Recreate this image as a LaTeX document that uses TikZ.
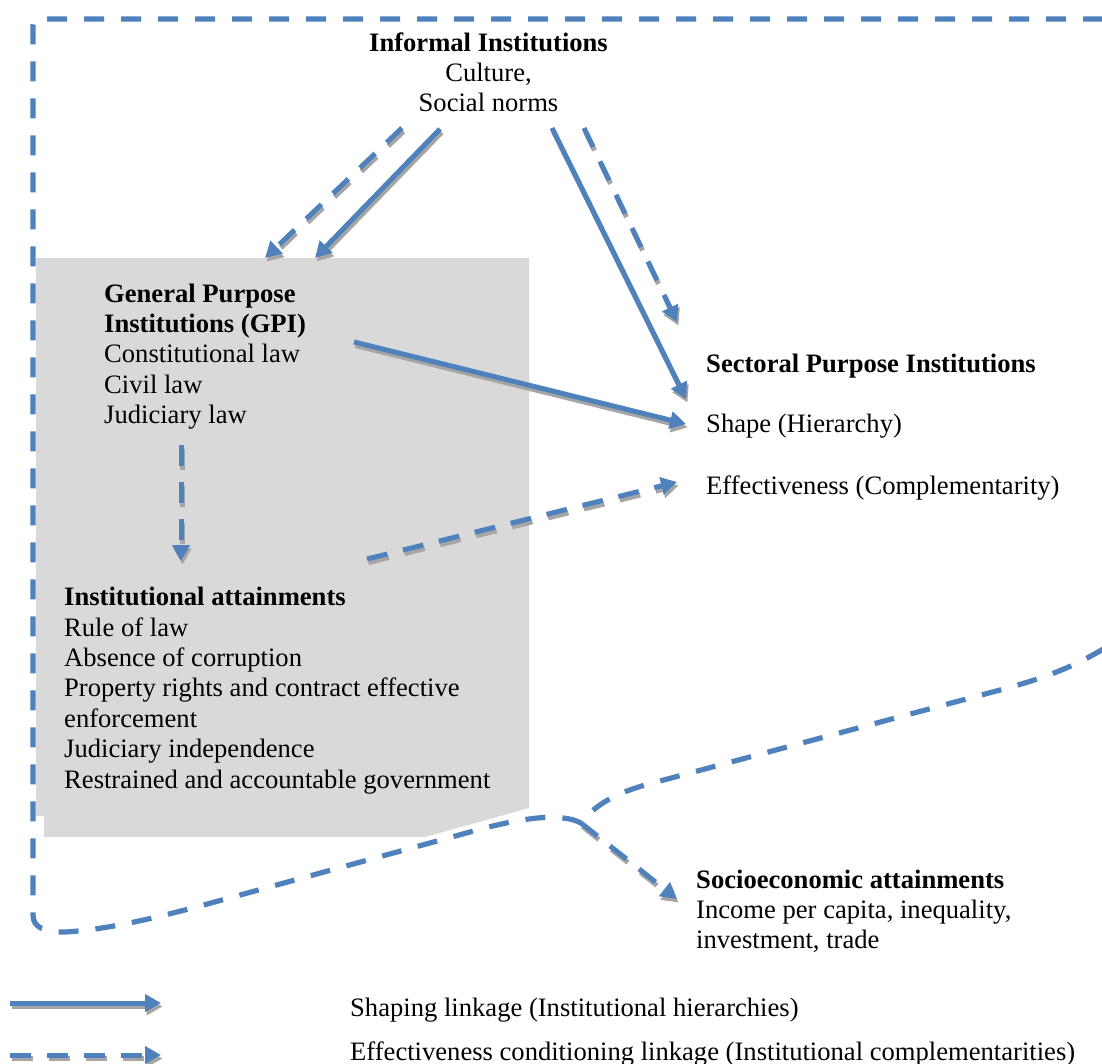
\documentclass[tikz,border=0pt]{standalone}
\usepackage{fontspec}
\setmainfont{Liberation Serif}
\usetikzlibrary{arrows.meta}
\definecolor{lblue}{RGB}{79,129,189}
\definecolor{boxgray}{RGB}{217,217,217}
\definecolor{shadowgray}{RGB}{165,165,165}
\begin{document}
\begin{tikzpicture}[x=1pt,y=-1pt,
  txt/.style={inner sep=0pt, font=\fontsize{26.6}{30.4}\selectfont, anchor=base west, align=left},
  tipstyle/.style={-{Triangle[length=16pt,width=17pt]}},
  link/.style={draw=lblue, line width=5pt, tipstyle,
    preaction={draw=shadowgray, line width=5pt, tipstyle, transform canvas={shift={(1.5pt,-3.5pt)}}}},
  cond/.style={draw=lblue, line width=5pt, tipstyle, dash pattern=on 21pt off 16pt,
    preaction={draw=shadowgray, line width=5pt, tipstyle, dash pattern=on 21pt off 16pt, transform canvas={shift={(1.5pt,-3.5pt)}}}},
  loopline/.style={draw=lblue, line width=5.2pt, dash pattern=on 20pt off 17pt}]
\useasboundingbox (0,0) rectangle (1102,1064);
\clip (0,0) rectangle (1102,1064);

% gray background block
\fill[boxgray] (36,258) -- (529,258) -- (529,808) -- (425,837) -- (44,837) -- (44,816) -- (36,816) -- cycle;

% texts (multi-line nodes: base is the last line's baseline)
\node[txt, anchor=base, align=center] (inf) at (488.5,112) {\textbf{Informal Institutions}\\Culture,\\Social norms};
\node[txt] (gpi) at (104,423.6) {\textbf{General Purpose}\\\textbf{Institutions (GPI)}\\Constitutional law\\Civil law\\Judiciary law};
\node[txt] (ia) at (64,788) {\textbf{Institutional attainments}\\Rule of law\\Absence of corruption\\Property rights and contract effective\\enforcement\\Judiciary independence\\Restrained and accountable government};
\node[txt] (spi) at (706,372) {\textbf{Sectoral Purpose Institutions}};
\node[txt] (shape) at (706,432) {Shape (Hierarchy)};
\node[txt] (eff) at (706,494) {Effectiveness (Complementarity)};
\node[txt] (soc) at (696,948.8) {\textbf{Socioeconomic attainments}\\Income per capita, inequality,\\investment, trade};
\node[txt] (leg1) at (350,1016) {Shaping linkage (Institutional hierarchies)};
\node[txt] (leg2) at (350,1060) {Effectiveness conditioning linkage (Institutional complementarities)};

% connector end points
\coordinate (inf-a) at (402,128);
\coordinate (inf-b) at (440,129);
\coordinate (inf-c) at (552,128);
\coordinate (inf-d) at (584,128);
\coordinate (gpi-top1) at (265,258);
\coordinate (gpi-top2) at (315,258);
\coordinate (spi-in1) at (686,399);
\coordinate (spi-in2) at (677,322);
\coordinate (gpi-out) at (354,342);
\coordinate (shape-in) at (686,424);
\coordinate (gpi-down) at (181,445);
\coordinate (ia-top) at (181,561);
\coordinate (ia-out) at (367,559);
\coordinate (eff-in) at (677,482);
\coordinate (junc) at (581,823);
\coordinate (soc-in) at (677,899);
\coordinate (leg1-s) at (10,1003);
\coordinate (leg1-e) at (161,1003);
\coordinate (leg2-s) at (10,1055);
\coordinate (leg2-e) at (161,1055);

% outer feedback loop
\draw[loopline] (1140,19) -- (39,19) .. controls (35,19) and (33,21) .. (33,25) -- (33,915)
  .. controls (33,928) and (45,932) .. (65,932)
  .. controls (100,930) and (140,922) .. (200,906) -- (470,832)
  .. controls (520,818) and (560,812) .. (junc)
  .. controls (595,805) and (615,792) .. (660,781) -- (1000,690)
  .. controls (1060,674) and (1090,660) .. (1140,625);

% linkages
\draw[cond] (inf-a) -- (gpi-top1);
\draw[link] (inf-b) -- (gpi-top2);
\draw[link] (inf-c) -- (spi-in1);
\draw[cond] (inf-d) -- (spi-in2);
\draw[link] (gpi-out) -- (shape-in);
\draw[cond] (gpi-down) -- (ia-top);
\draw[cond] (ia-out) -- (eff-in);
\draw[cond] (junc) -- (soc-in);

% legend
\draw[link] (leg1-s) -- (leg1-e);
\draw[cond] (leg2-s) -- (leg2-e);
\end{tikzpicture}
\end{document}
